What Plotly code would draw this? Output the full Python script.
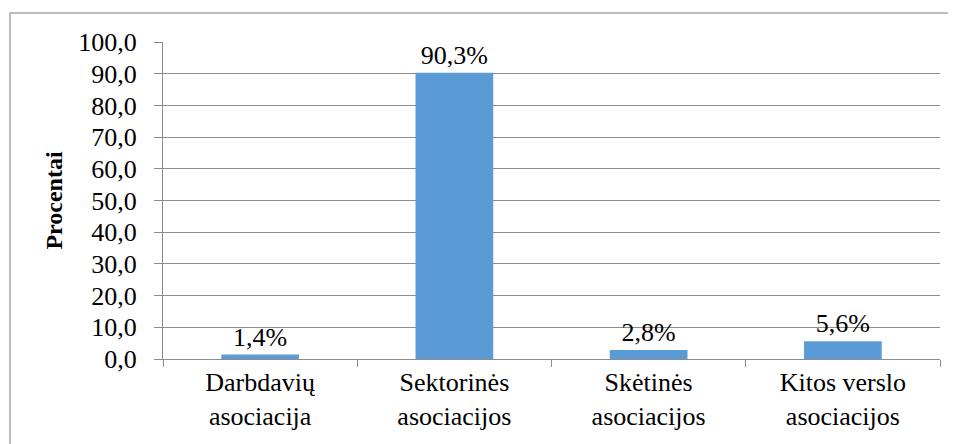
import plotly.graph_objects as go

categories = ["Darbdavių<br>asociacija", "Sektorinės<br>asociacijos", "Skėtinės<br>asociacijos", "Kitos verslo<br>asociacijos"]
values = [1.4, 90.3, 2.8, 5.6]
labels = [f"{v:.1f}%".replace(".", ",") for v in values]
y_ticks = [0, 10, 20, 30, 40, 50, 60, 70, 80, 90, 100]
y_tick_text = [f"{v:.1f}".replace(".", ",") for v in y_ticks]

FONT = "Liberation Serif"
TXT = "#000000"
GRAY = "#8c8c8c"

fig = go.Figure(go.Bar(
    x=categories, y=values, text=labels, textposition="outside",
    textfont=dict(family=FONT, size=26, color=TXT),
    marker=dict(color="#5B9BD5", line=dict(width=0)),
    cliponaxis=False,
))

# page offset 8px (body margin)
W, H = 948, 436
L, R, T, B = 155, 16, 34, 85
pw, ph = W - L - R, H - T - B
bx = (2 - L) / pw
by = 1 + (T - 5) / ph
fig.add_shape(type="path", xref="paper", yref="paper",
              path=f"M {bx} -0.4 L {bx} {by} L 1.1 {by}",
              line=dict(color="#a6a6a6", width=1.5))

fig.update_layout(
    width=W, height=H, margin=dict(l=L, r=R, t=T, b=B),
    plot_bgcolor="rgba(255,255,255,1)", paper_bgcolor="rgba(255,255,255,1)",
    bargap=0.6, showlegend=False,
    font=dict(family=FONT, size=26, color=TXT),
)
fig.update_xaxes(
    showline=True, linecolor=GRAY, linewidth=1.3,
    ticks="outside", tickson="boundaries", ticklen=7, tickcolor=GRAY,
    tickfont=dict(family=FONT, size=26, color=TXT),
    showgrid=False,
)
fig.update_yaxes(
    range=[0, 100], tickvals=y_ticks, ticktext=y_tick_text,
    showline=True, linecolor=GRAY, linewidth=1.3,
    ticks="outside", ticklen=8, tickcolor=GRAY, ticklabelstandoff=12,
    showgrid=True, gridcolor=GRAY, gridwidth=1.3, zeroline=False,
    tickfont=dict(family=FONT, size=26, color=TXT),
    title=dict(text="<b>Procentai</b>", font=dict(family=FONT, size=24, color=TXT), standoff=8),
)

fig.write_html("out.html")
